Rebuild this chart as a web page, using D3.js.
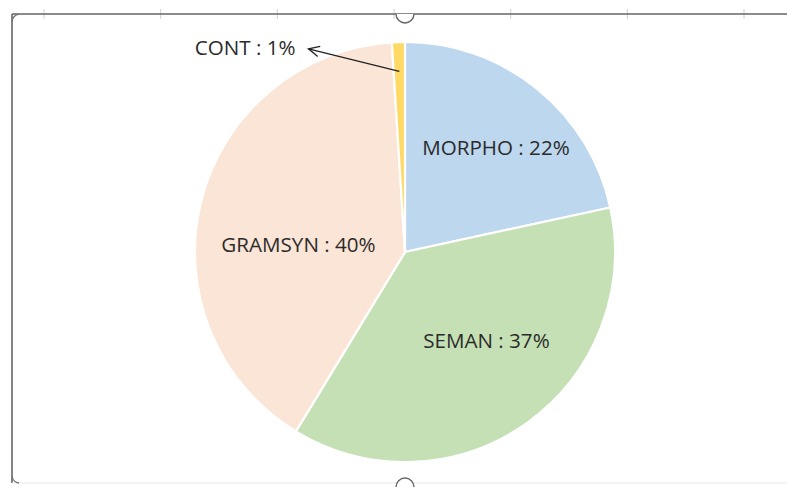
<!DOCTYPE html>
<meta charset="utf-8">
<style>
  body { margin: 0; background: #fff; }
  svg text { font-family: "Open Sans", "Noto Sans", sans-serif; fill: #2b2b2b; }
</style>
<body>
    <svg width="787" height="487"></svg>
</body>
<script src="https://cdnjs.cloudflare.com/ajax/libs/d3/7.8.5/d3.min.js"></script>
<script>

    // data
    var categories = ["MORPHO", "SEMAN", "GRAMSYN", "CONT"];
    var values = [21.6, 37.1, 40.3, 1.0];
    var colors = ["#BDD7EE", "#C5E0B4", "#FBE5D6", "#FFD966"];

    var svg = d3.select("svg"),
        width = +svg.attr("width"),
        height = +svg.attr("height");

    // excel-ish frame of the chart object (selection border + handles)
    var frame = svg.append("g").attr("class", "frame");

    frame.selectAll("line.tick")
        .data(d3.range(44, width, 116.67))
        .enter()
        .append("line")
        .attr("class", "tick")
        .attr("x1", d => d).attr("x2", d => d)
        .attr("y1", 9).attr("y2", 19)
        .style("stroke", "#d0d0d0");

    frame.append("line")
        .attr("x1", 12).attr("x2", width)
        .attr("y1", 14).attr("y2", 14)
        .style("stroke", "#666").style("stroke-width", 1.6);

    frame.append("line")
        .attr("x1", 12).attr("x2", 12)
        .attr("y1", 14).attr("y2", 483)
        .style("stroke", "#666").style("stroke-width", 1.6);

    frame.append("line")
        .attr("x1", 12).attr("x2", width)
        .attr("y1", 483).attr("y2", 483)
        .style("stroke", "#e8e8e8").style("stroke-width", 1);

    // corner handles
    frame.append("path")
        .attr("d", "M12,22 A8,8 0 0 1 19,14")
        .style("fill", "none").style("stroke", "#777").style("stroke-width", 1.4);
    frame.append("path")
        .attr("d", "M12,476 A8,8 0 0 0 19,483")
        .style("fill", "none").style("stroke", "#777").style("stroke-width", 1.4);

    // middle handles
    frame.append("path")
        .attr("d", "M396,14 A9,9 0 0 0 414,14")
        .style("fill", "#fff").style("stroke", "#666").style("stroke-width", 1.4);
    frame.append("path")
        .attr("d", "M396,487 A9,9 0 0 1 414,487")
        .style("fill", "#fff").style("stroke", "#666").style("stroke-width", 1.4);

    // pie
    var cx = 405, cy = 252, radius = 210;

    var g = svg.append("g")
        .attr("transform", "translate(" + cx + "," + cy + ")");

    var pie = d3.pie()
        .sort(null)
        .value(d => d.value);

    var arc = d3.arc()
        .innerRadius(0)
        .outerRadius(radius);

    var slices = pie(categories.map((c, i) => ({ name: c, value: values[i], color: colors[i] })));

    g.selectAll("path.slice")
        .data(slices)
        .enter()
        .append("path")
        .attr("class", "slice")
        .attr("d", arc)
        .style("fill", d => d.data.color)
        .style("stroke", "#fff")
        .style("stroke-width", 2.2);

    // label placement: [angle in degrees clockwise from top, distance from centre]
    var labelPlace = {
        MORPHO: [41, 138.6],
        SEMAN: [137.4, 120.3],
        GRAMSYN: [274, 106.8],
        CONT: [322, 259.7]
    };

    var total = d3.sum(values);

    var labels = g.selectAll("text.label")
        .data(slices)
        .enter()
        .append("text")
        .attr("class", "label")
        .attr("text-anchor", "middle")
        .attr("dy", "0.36em")
        .style("font-size", "20.6px")
        .each(function(d) {
            var p = d3.pointRadial(labelPlace[d.data.name][0] * Math.PI / 180, labelPlace[d.data.name][1]);
            d.lx = p[0];
            d.ly = p[1];
        })
        .attr("x", d => d.lx)
        .attr("y", d => d.ly)
        .text(d => d.data.name + " : " + Math.round(d.data.value / total * 100) + "%");

    // leader arrow for the tiny slice
    var small = slices[3];
    var smallLabel = labels.filter(d => d === small).node();
    var bb = smallLabel.getBBox();
    var start = d3.pointRadial((small.startAngle + small.endAngle) / 2, radius * 0.86);
    var end = [bb.x + bb.width + 13, small.ly + 1.5];

    g.append("line")
        .attr("x1", start[0]).attr("y1", start[1])
        .attr("x2", end[0]).attr("y2", end[1])
        .style("stroke", "#222").style("stroke-width", 1.3);

    var ang = Math.atan2(start[1] - end[1], start[0] - end[0]);
    var headLen = 12, spread = 0.45;
    g.append("path")
        .attr("d", "M" + (end[0] + headLen * Math.cos(ang - spread)) + "," + (end[1] + headLen * Math.sin(ang - spread)) +
                   "L" + end[0] + "," + end[1] +
                   "L" + (end[0] + headLen * Math.cos(ang + spread)) + "," + (end[1] + headLen * Math.sin(ang + spread)))
        .style("fill", "none").style("stroke", "#222").style("stroke-width", 1.3);

</script>
